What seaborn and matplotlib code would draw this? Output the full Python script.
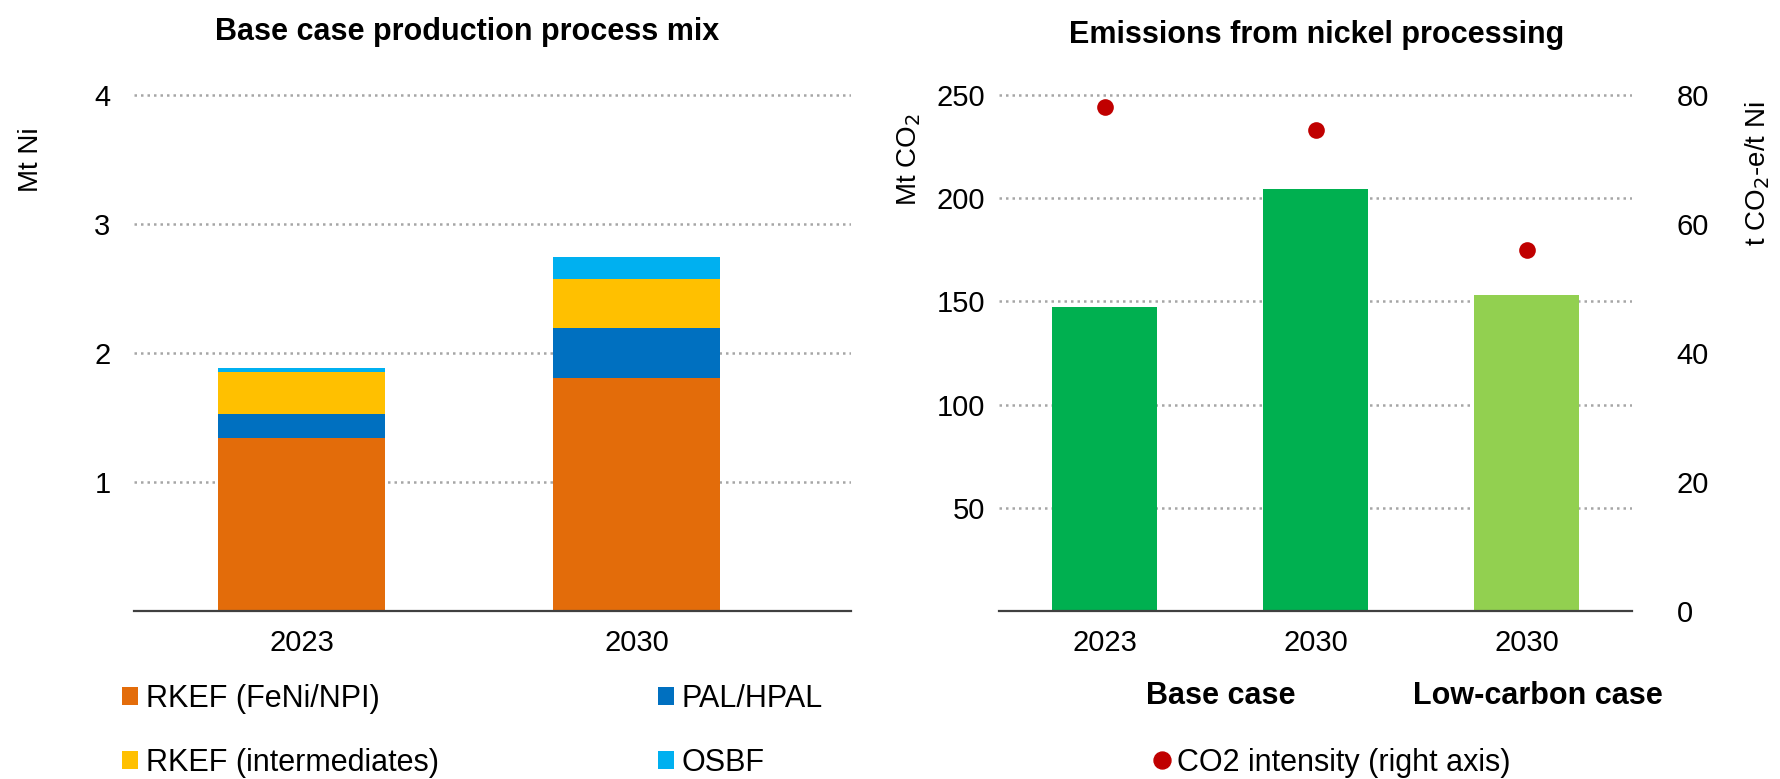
import numpy as np
import pandas as pd
import matplotlib
matplotlib.use("Agg")
import matplotlib.pyplot as plt
import seaborn as sns
from matplotlib.patches import Patch
from matplotlib.lines import Line2D

# ---- data ----
years = ["2023", "2030"]
rkef_feni = [1.34, 1.806]
pal_hpal = [0.187, 0.39]
rkef_int = [0.326, 0.38]
osbf = [0.031, 0.168]
process_names = ["RKEF (FeNi/NPI)", "PAL/HPAL", "RKEF (intermediates)", "OSBF"]
process_colors = ["#E36C0A", "#0070C0", "#FFC000", "#00B0F0"]

em_years = ["2023", "2030", "2030"]
em_cases = ["Base case", "Base case", "Low-carbon case"]
emissions = [147.2, 204.4, 153.2]
intensity = [78.2, 74.5, 55.9]
case_colors = {"Base case": "#00B050", "Low-carbon case": "#92D050"}

sns.set_theme(style="white")
FAM = ["Liberation Sans", "DejaVu Sans"]
plt.rcParams["font.family"] = FAM
for k in ("text.color", "axes.labelcolor", "xtick.color", "ytick.color"):
    plt.rcParams[k] = "black"

W, H = 1780, 779
fig = plt.figure(figsize=(W / 100, H / 100), dpi=100)

def fx(px):
    return px / W

def fy(py):
    return 1 - py / H

GRID = dict(color="#A6A6A6", linestyle=(0, (1, 1.6)), linewidth=1.8)
TICK_FS = 21
LAB_FS = 20
BOLD_FS = 22

# ---- left chart ----
unit = 129.0
ax1 = fig.add_axes([fx(134), 168 / H, fx(851) - fx(134), 4.05 * unit / H])
layers = np.cumsum([rkef_feni, pal_hpal, rkef_int, osbf], axis=0)
for i in reversed(range(len(process_names))):
    df = pd.DataFrame({"year": years, "val": layers[i]})
    sns.barplot(data=df, x="year", y="val", color=process_colors[i], width=0.5,
                saturation=1, linewidth=0, edgecolor="none", ax=ax1, zorder=2)
ax1.set_xlim(-0.5, 1.64)
ax1.set_ylim(0, 4.05)
ax1.set_yticks([1, 2, 3, 4])
ax1.set_yticklabels(["1", "2", "3", "4"])
ax1.yaxis.grid(True, **GRID)
ax1.set_axisbelow(True)
ax1.set_xlabel("")
ax1.set_ylabel("")

# ---- right chart ----
keys = [f"{y} {c}" for y, c in zip(em_years, em_cases)]
df2 = pd.DataFrame({"key": keys, "em": emissions, "case": em_cases})
ax2 = fig.add_axes([fx(999), 168 / H, fx(1632) - fx(999), 4.05 * unit / H])
sns.barplot(data=df2, x="key", y="em", hue="case", palette=case_colors, order=keys,
            dodge=False, width=0.5, saturation=1, linewidth=0, edgecolor="none",
            legend=False, ax=ax2, zorder=2)
ax2.set_ylim(0, 250 * 4.05 / 4)
ax2.set_yticks([50, 100, 150, 200, 250])
ax2.yaxis.grid(True, **GRID)
ax2.set_axisbelow(True)

ax3 = ax2.twinx()
sns.stripplot(x=keys, y=intensity, order=keys, jitter=False, color="#C00000",
              size=12, linewidth=0, ax=ax3, zorder=3)
ax3.set_ylim(0, 80 * 4.05 / 4)
ax3.set_yticks([0, 20, 40, 60, 80])
ax2.set_xlim(-0.5, 2.5)
ax2.set_xticks(range(3))
ax2.set_xticklabels(em_years)
for a in (ax2, ax3):
    a.set_xlabel("")
    a.set_ylabel("")

# ---- styling ----
for a in (ax1, ax2, ax3):
    for s in ("left", "right", "top", "bottom"):
        a.spines[s].set_visible(False)
    a.tick_params(length=0, labelsize=TICK_FS, colors="black")
for a in (ax1, ax2):
    a.spines["bottom"].set_visible(True)
    a.spines["bottom"].set_color("#404040")
    a.spines["bottom"].set_linewidth(1.6)
ax1.tick_params(axis="y", pad=17)
ax1.tick_params(axis="x", pad=13)
ax2.tick_params(axis="y", pad=10)
ax2.tick_params(axis="x", pad=13)
ax3.tick_params(axis="y", pad=32)
ax3.grid(False)

# ---- texts ----
fig.text(fx(467), fy(32), "Base case production process mix", ha="center", va="center",
         fontsize=BOLD_FS, fontweight="bold")
fig.text(fx(1317), fy(35), "Emissions from nickel processing", ha="center", va="center",
         fontsize=BOLD_FS, fontweight="bold")
fig.text(fx(31), fy(160), "Mt Ni", rotation=90, ha="center", va="center", fontsize=LAB_FS)
fig.text(fx(909), fy(160), "Mt CO$_2$", rotation=90, ha="center", va="center",
         fontsize=LAB_FS)
fig.text(fx(1758), fy(174), "t CO$_2$-e/t Ni", rotation=90, ha="center", va="center",
         fontsize=LAB_FS)
fig.text(fx(1221), fy(696), "Base case", ha="center", va="center", fontsize=BOLD_FS,
         fontweight="bold")
fig.text(fx(1538), fy(696), "Low-carbon case", ha="center", va="center", fontsize=BOLD_FS,
         fontweight="bold")

# ---- legends ----
order = [0, 2, 1, 3]
handles = [Patch(facecolor=process_colors[i], edgecolor="none") for i in order]
labels = [process_names[i] for i in order]
fig.legend(handles, labels, loc="center left", bbox_to_anchor=(fx(122), fy(731)),
           ncol=2, frameon=False, fontsize=22, handlelength=0.52, handleheight=0.52,
           handletextpad=0.26, columnspacing=7.17, labelspacing=1.1, borderpad=0,
           borderaxespad=0)
fig.legend([Line2D([], [], marker="o", color="#C00000", linestyle="none", markersize=12.2)],
           ["CO2 intensity (right axis)"], loc="center left",
           bbox_to_anchor=(fx(1154), fy(763)), frameon=False, fontsize=22,
           handlelength=0.5, handletextpad=0.25, borderpad=0, borderaxespad=0)

fig.savefig("out.png", dpi=100)
